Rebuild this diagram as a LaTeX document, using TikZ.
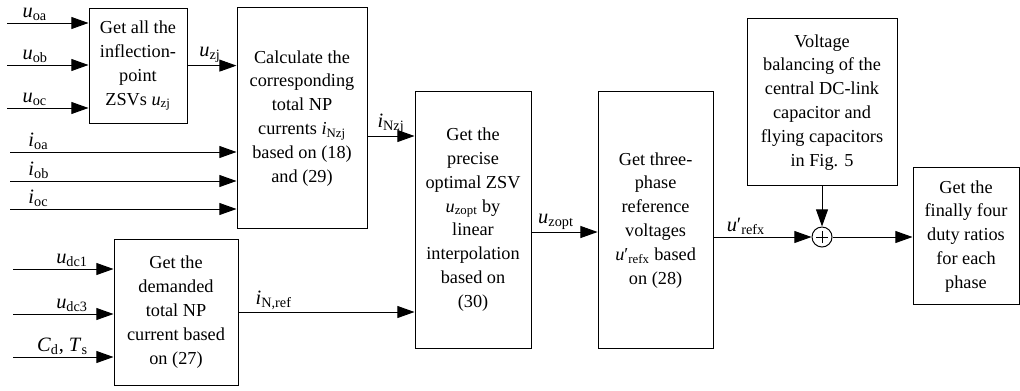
\documentclass[tikz,border=0pt]{standalone}
\usepackage{fontspec}
\setmainfont{Liberation Serif}
\usetikzlibrary{arrows.meta}
\newcommand{\sigl}[2]{\textit{#1}\textsubscript{#2}}
\tikzset{
	block/.style={draw, line width=0.7pt, align=center, inner sep=1pt,
		font=\fontsize{13}{17}\selectfont},
	sig/.style={line width=0.7pt, -{Triangle[length=0.43cm, width=0.3cm]}},
	lbl/.style={inner sep=1.5pt, font=\fontsize{14.5}{16}\selectfont},
}
\begin{document}
\begin{tikzpicture}
	\useasboundingbox (0, 0) rectangle (25.5, -9.75);
	% Blocks.
	\node[block, minimum width=2.45cm, minimum height=2.875cm] (b1) at (3.45, -1.64)
		{Get all the\\inflection-\\point\\ZSVs \sigl{u}{zj}};
	\node[block, minimum width=3.25cm, minimum height=5.525cm] (b2) at (7.55, -2.96)
		{Calculate the\\corresponding\\total NP\\currents \sigl{i}{Nzj}\\based on (18)\\and (29)};
	\node[block, minimum width=2.9cm, minimum height=6.425cm] (b3) at (11.825, -5.49)
		{Get the\\precise\\optimal ZSV\\\sigl{u}{zopt} by\\linear\\interpolation\\based on\\(30)};
	\node[block, minimum width=2.875cm, minimum height=6.425cm] (b4) at (16.39, -5.51)
		{Get three-\\phase\\reference\\voltages\\\textit{u}′\textsubscript{refx} based\\on (28)};
	\node[block, minimum width=3.75cm, minimum height=4.175cm] (b5) at (20.55, -2.56)
		{Voltage\\balancing of the\\central DC-link\\capacitor and\\flying capacitors\\in Fig. 5};
	\node[block, minimum width=2.65cm, minimum height=3.425cm] (b6) at (24.15, -5.91)
		{Get the\\finally four\\duty ratios\\for each\\phase};
	\node[block, minimum width=3.1cm, minimum height=3.65cm] (b7) at (4.4, -7.8)
		{Get the\\demanded\\total NP\\current based\\on (27)};
	% Summing junction.
	\node[draw, circle, line width=0.7pt, minimum size=0.5cm, inner sep=0pt] (sum) at (20.55, -5.925) {};
	\draw[line width=0.6pt] (sum.center) +(-0.15, 0) -- +(0.15, 0)
		(sum.center) +(0, -0.15) -- +(0, 0.15);
	% Input signals.
	\coordinate (uoa) at (0.175, -0.575);
	\coordinate (uob) at (0.175, -1.625);
	\coordinate (uoc) at (0.175, -2.7);
	\coordinate (ioa) at (0.25, -3.8);
	\coordinate (iob) at (0.25, -4.525);
	\coordinate (ioc) at (0.25, -5.225);
	\coordinate (udc1) at (0.325, -6.725);
	\coordinate (udc3) at (0.325, -7.85);
	\coordinate (cdts) at (0.325, -8.925);
	\draw[sig] (uoa) -- (b1.west |- uoa)
		node[lbl, pos=0.16, above right] {\sigl{u}{oa}};
	\draw[sig] (uob) -- (b1.west |- uob)
		node[lbl, pos=0.16, above right] {\sigl{u}{ob}};
	\draw[sig] (uoc) -- (b1.west |- uoc)
		node[lbl, pos=0.16, above right] {\sigl{u}{oc}};
	\draw[sig] (ioa) -- (b2.west |- ioa)
		node[lbl, pos=0.07, above right] {\sigl{i}{oa}};
	\draw[sig] (iob) -- (b2.west |- iob)
		node[lbl, pos=0.07, above right] {\sigl{i}{ob}};
	\draw[sig] (ioc) -- (b2.west |- ioc)
		node[lbl, pos=0.07, above right] {\sigl{i}{oc}};
	\draw[sig] (udc1) -- (b7.west |- udc1)
		node[lbl, pos=0.77, above left] {\sigl{u}{dc1}};
	\draw[sig] (udc3) -- (b7.west |- udc3)
		node[lbl, pos=0.77, above left] {\sigl{u}{dc3}};
	\draw[sig] (cdts) -- (b7.west |- cdts)
		node[lbl, pos=0.77, above left] {\sigl{C}{d}, \sigl{T}{s}};
	% Signals between blocks.
	\draw[sig] (b1.east) -- (b1.east -| b2.west)
		node[lbl, pos=0.46, above] {\sigl{u}{zj}};
	\draw[sig] ([yshift=-0.44cm]b2.east) -- ([yshift=-0.44cm]b2.east -| b3.west)
		node[lbl, pos=0.5, above] {\sigl{i}{Nzj}};
	\draw[sig] (b7.east) -- (b7.east -| b3.west)
		node[lbl, pos=0.2, above] {\sigl{i}{N,ref}};
	\draw[sig] ([yshift=-0.31cm]b3.east) -- ([yshift=-0.31cm]b3.east -| b4.west)
		node[lbl, pos=0.37, above] {\sigl{u}{zopt}};
	\draw[sig] (b4.east |- sum) -- (sum.west)
		node[lbl, pos=0.33, above] {\textit{u}′\textsubscript{refx}};
	\draw[sig] (b5.south) -- (sum.north);
	\draw[sig] (sum.east) -- (sum -| b6.west);
\end{tikzpicture}
\end{document}
